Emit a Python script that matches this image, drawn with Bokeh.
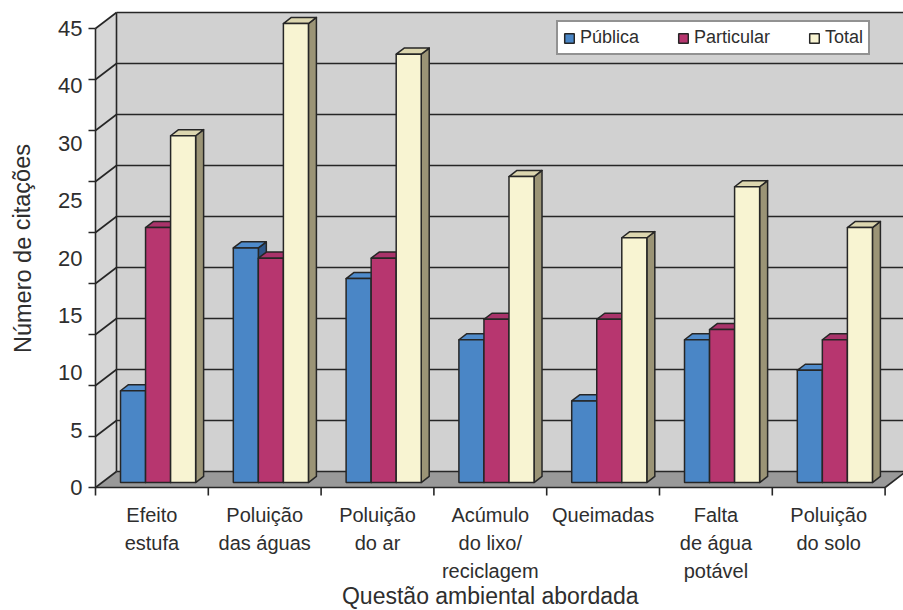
from bokeh.plotting import figure
from bokeh.models import Range1d, Legend, LegendItem
from bokeh.core.properties import value
from bokeh.embed import file_html
from bokeh.resources import INLINE

# ---- data -------------------------------------------------------------
categories = [
    "Efeito\nestufa",
    "Poluição\ndas águas",
    "Poluição\ndo ar",
    "Acúmulo\ndo lixo/\nreciclagem",
    "Queimadas",
    "Falta\nde água\npotável",
    "Poluição\ndo solo",
]
publica = [9, 23, 20, 14, 8, 14, 11]
particular = [25, 22, 22, 16, 16, 15, 14]
total = [34, 45, 42, 30, 24, 29, 25]
series_names = ["Pública", "Particular", "Total"]

grid_values = [0, 5, 10, 15, 20, 25, 30, 35, 40, 45]
y_tick_labels = ["45", "40", "30", "25", "20", "15", "10", "5", "0"]
y_tick_label_pos = [45, 39.4, 33.75, 28.1, 22.5, 16.9, 11.25, 5.6, 0]

x_title = "Questão ambiental abordada"
y_title = "Número de citações"

# ---- styling ----------------------------------------------------------
FONT = "Liberation Sans"
TEXT_COLOR = "#2e2e2e"
LINE = "#262626"
WALL = "#d1d1d1"
SIDE_WALL = "#d6d6d6"
FLOOR = "#999999"

# face colours per series: (front, top, side)
faces = [
    ("#4a86c6", "#4f8bcb", "#2d5688"),
    ("#b7366f", "#a9336a", "#7b2249"),
    ("#f8f4d2", "#dcd6af", "#9b9476"),
]

# ---- canvas / scale set-up ---------------------------------------------
W_PX, H_PX = 903, 610
ORIGIN_X, ORIGIN_Y = 95, 487          # pixel position of (0, 0)
PX_X, PX_Y = 112.8, 10.2              # pixels per category / per unit

N = len(categories)
YMAX = 45
DX, DY = 21 / PX_X, 16 / PX_Y         # full depth of the box
F1, F2 = 0.31, 0.69                   # front/back depth of the bars
BAR_W = 0.222
GAP = 0.164

p = figure(
    width=W_PX, height=H_PX,
    x_range=Range1d(-ORIGIN_X / PX_X, (W_PX - ORIGIN_X) / PX_X),
    y_range=Range1d(-(H_PX - ORIGIN_Y) / PX_Y, ORIGIN_Y / PX_Y),
    x_axis_location=None, y_axis_location=None,
    toolbar_location=None, output_backend="svg",
    min_border=0, outline_line_color=None,
)
p.grid.visible = False
p.background_fill_color = "white"
p.border_fill_color = "white"

# ---- box: back wall, side wall, floor ---------------------------------
p.quad(left=DX, right=N + DX, bottom=DY, top=YMAX + DY,
       fill_color=WALL, line_color=None)
p.patch([0, 0, DX, DX], [0, YMAX, YMAX + DY, DY],
        fill_color=SIDE_WALL, line_color=None)
p.patch([0, N, N + DX, DX], [0, 0, DY, DY],
        fill_color=FLOOR, line_color=None)

# gridlines on the back wall and on the side wall
p.segment(x0=[DX] * len(grid_values), y0=[v + DY for v in grid_values],
          x1=[N + DX] * len(grid_values), y1=[v + DY for v in grid_values],
          line_color=LINE, line_width=1.6)
p.segment(x0=[0] * len(grid_values), y0=grid_values,
          x1=[DX] * len(grid_values), y1=[v + DY for v in grid_values],
          line_color=LINE, line_width=1.6)
# box edges
p.segment(x0=[DX, 0, 0, N], y0=[DY, 0, 0, 0],
          x1=[DX, 0, N, N + DX], y1=[YMAX + DY, YMAX, 0, DY],
          line_color=LINE, line_width=1.6)

# tick marks
tick_len_x = 7 / PX_X
tick_len_y = 8 / PX_Y
p.segment(x0=[0] * len(grid_values), y0=grid_values,
          x1=[-tick_len_x] * len(grid_values), y1=grid_values,
          line_color=LINE, line_width=1.6)
p.segment(x0=list(range(N + 1)), y0=[0] * (N + 1),
          x1=list(range(N + 1)), y1=[-tick_len_y] * (N + 1),
          line_color=LINE, line_width=1.6)

# ---- bars ---------------------------------------------------------------
legend_items = []
for k, (name, vals) in enumerate(zip(series_names, [publica, particular, total])):
    front_c, top_c, side_c = faces[k]
    x0 = [i + GAP + k * BAR_W for i in range(N)]
    x1 = [x + BAR_W for x in x0]

    side_xs = [[b + F1 * DX, b + F1 * DX, b + F2 * DX, b + F2 * DX] for b in x1]
    side_ys = [[F1 * DY, v + F1 * DY, v + F2 * DY, F2 * DY] for v in vals]
    p.patches(side_xs, side_ys, fill_color=side_c, line_color=LINE,
              line_width=1.5, line_join="round")

    top_xs = [[a + F1 * DX, b + F1 * DX, b + F2 * DX, a + F2 * DX]
              for a, b in zip(x0, x1)]
    top_ys = [[v + F1 * DY, v + F1 * DY, v + F2 * DY, v + F2 * DY] for v in vals]
    p.patches(top_xs, top_ys, fill_color=top_c, line_color=LINE,
              line_width=1.5, line_join="round")

    r = p.quad(left=[a + F1 * DX for a in x0], right=[b + F1 * DX for b in x1],
               bottom=F1 * DY, top=[v + F1 * DY for v in vals],
               fill_color=front_c, line_color=LINE, line_width=1.5)
    legend_items.append(LegendItem(label=name, renderers=[r]))

# ---- texts ----------------------------------------------------------------
p.text(x=[-13 / PX_X] * len(y_tick_labels), y=y_tick_label_pos, text=y_tick_labels,
       text_font=value(FONT), text_font_size="22px", text_color=TEXT_COLOR,
       text_align="right", text_baseline="middle")

p.text(x=[i + 0.5 for i in range(N)], y=[-16 / PX_Y] * N, text=categories,
       text_font=value(FONT), text_font_size="20px", text_color=TEXT_COLOR,
       text_align="center", text_baseline="top", text_line_height=1.28)

p.text(x=[N / 2], y=[-(595 - ORIGIN_Y) / PX_Y], text=[x_title],
       text_font=value(FONT), text_font_size="23px", text_color=TEXT_COLOR,
       text_align="center", text_baseline="middle")

p.text(x=[(22 - ORIGIN_X) / PX_X], y=[(ORIGIN_Y - 248) / PX_Y], text=[y_title],
       text_font=value(FONT), text_font_size="23.5px", text_color=TEXT_COLOR,
       text_align="center", text_baseline="middle", angle=1.5708)

# ---- legend ------------------------------------------------------------------
legend = Legend(items=legend_items, orientation="horizontal",
                location=(556, H_PX - 55), margin=0, padding=5,
                spacing=38, glyph_width=12, glyph_height=12, label_standoff=5,
                label_height=20,
                label_text_font=FONT, label_text_font_size="18px",
                label_text_color=TEXT_COLOR,
                background_fill_color="white", background_fill_alpha=1.0,
                border_line_color=LINE, border_line_width=2)
p.add_layout(legend)

open("out.html", "w").write(file_html(p, INLINE))
